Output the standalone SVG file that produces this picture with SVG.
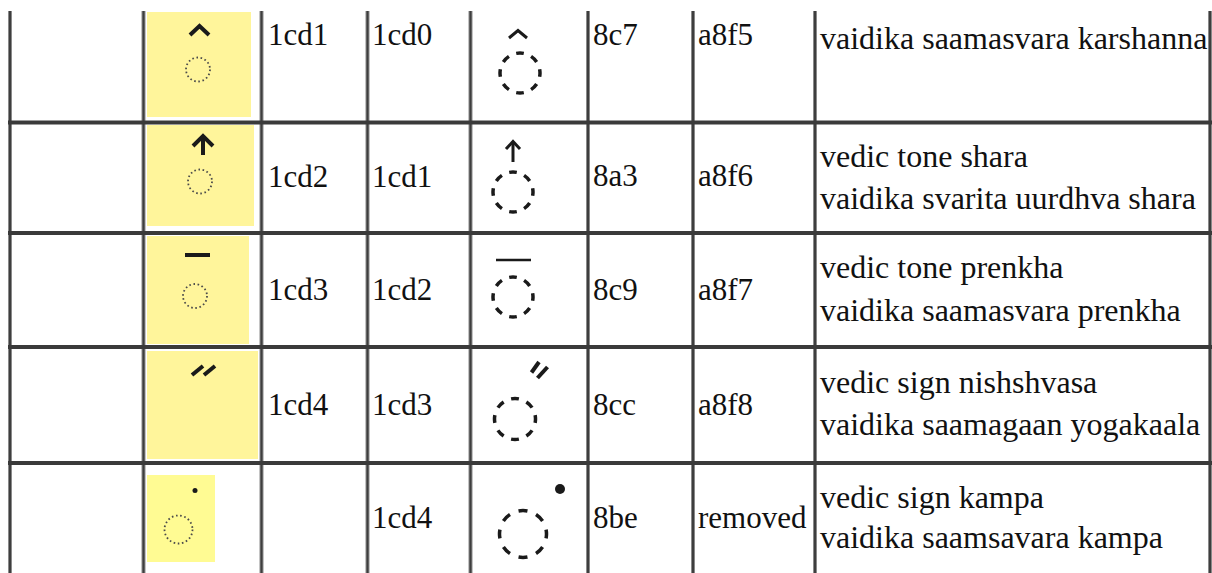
<svg xmlns="http://www.w3.org/2000/svg" width="1212" height="573" viewBox="0 0 1212 573">
<style>
text{font-size:31px;fill:#111}
.d{font-size:32px}
.yb{fill:#fff59b}
.vo{stroke:#8a8a8a;stroke-width:4}
.vi{stroke:#3e3e3e;stroke-width:2}
.ho{stroke:#3a3a3a;stroke-width:4}
.sd{fill:none;stroke:#4a4a4a;stroke-width:1.8;stroke-dasharray:1.6 2.6}
.bd{fill:none;stroke:#1a1a1a;stroke-width:3.5}
.mk{fill:none;stroke:#1a1a1a;stroke-width:4;stroke-linecap:butt;stroke-linejoin:miter}
.mt{fill:none;stroke:#1a1a1a;stroke-width:3;stroke-linejoin:miter}
</style>
<rect width="1212" height="573" fill="#fff"/>
<g id="grid">
<g class="vo">
<line x1="10" y1="11" x2="10" y2="573"/><line x1="143.5" y1="11" x2="143.5" y2="573"/><line x1="261.5" y1="11" x2="261.5" y2="573"/><line x1="367.5" y1="11" x2="367.5" y2="573"/><line x1="470.5" y1="11" x2="470.5" y2="573"/><line x1="588" y1="11" x2="588" y2="573"/><line x1="693" y1="11" x2="693" y2="573"/><line x1="815" y1="11" x2="815" y2="573"/><line x1="1210" y1="11" x2="1210" y2="573"/>
</g>
<g class="vi">
<line x1="10" y1="11" x2="10" y2="573"/><line x1="143.5" y1="11" x2="143.5" y2="573"/><line x1="261.5" y1="11" x2="261.5" y2="573"/><line x1="367.5" y1="11" x2="367.5" y2="573"/><line x1="470.5" y1="11" x2="470.5" y2="573"/><line x1="588" y1="11" x2="588" y2="573"/><line x1="693" y1="11" x2="693" y2="573"/><line x1="815" y1="11" x2="815" y2="573"/><line x1="1210" y1="11" x2="1210" y2="573"/>
</g>
<g class="ho">
<line x1="8" y1="122.5" x2="1212" y2="122.5"/><line x1="8" y1="233" x2="1212" y2="233"/><line x1="8" y1="347" x2="1212" y2="347"/><line x1="8" y1="463" x2="1212" y2="463"/>
</g>
</g>
<g id="rows" font-family="Liberation Serif">
<g id="row1">
<rect class="yb" x="147" y="12" width="104" height="105"/>
<polyline class="mk" points="190,35 199.5,26 209,35"/>
<circle class="sd" cx="198" cy="69.5" r="12"/>
<text x="268" y="45">1cd1</text>
<text x="372" y="45">1cd0</text>
<polyline class="mt" points="509,38 518,30.5 527,38"/>
<circle class="bd" cx="520" cy="73" r="20" pathLength="80" stroke-dasharray="5 5" stroke-dashoffset="2.5"/>
<text x="593" y="45">8c7</text>
<text x="698" y="45">a8f5</text>
<text class="d" x="820" y="49">vaidika saamasvara karshanna</text>
</g>
<g id="row2">
<rect class="yb" x="147" y="125" width="107" height="101"/>
<polyline class="mk" points="193,146 203,136 213,146"/>
<line class="mk" x1="203" y1="137" x2="203" y2="155"/>
<circle class="sd" cx="200" cy="181.5" r="12"/>
<text x="268" y="187">1cd2</text>
<text x="372" y="187">1cd1</text>
<polyline class="mt" points="506,149 513,141.5 520,149"/>
<line class="mt" x1="513" y1="142" x2="513" y2="162"/>
<circle class="bd" cx="513" cy="192" r="20" pathLength="80" stroke-dasharray="5 5" stroke-dashoffset="2.5"/>
<text x="593" y="186">8a3</text>
<text x="698" y="186">a8f6</text>
<text class="d" x="820" y="167">vedic tone shara</text>
<text class="d" x="820" y="209">vaidika svarita uurdhva shara</text>
</g>
<g id="row3">
<rect class="yb" x="147" y="236" width="102" height="108"/>
<line class="mk" x1="185" y1="255" x2="210" y2="255"/>
<circle class="sd" cx="195" cy="296" r="12"/>
<text x="268" y="300">1cd3</text>
<text x="372" y="300">1cd2</text>
<line x1="496" y1="260" x2="531" y2="260" stroke="#1a1a1a" stroke-width="2.5"/>
<circle class="bd" cx="513" cy="297" r="20" pathLength="80" stroke-dasharray="5 5" stroke-dashoffset="2.5"/>
<text x="593" y="300">8c9</text>
<text x="698" y="300">a8f7</text>
<text class="d" x="820" y="278">vedic tone prenkha</text>
<text class="d" x="820" y="321">vaidika saamasvara prenkha</text>
</g>
<g id="row4">
<rect class="yb" x="147" y="351" width="111" height="108"/>
<line class="mk" x1="192" y1="375" x2="203" y2="366"/>
<line class="mk" x1="204" y1="375" x2="215" y2="366"/>
<text x="268" y="415">1cd4</text>
<text x="372" y="415">1cd3</text>
<line class="mk" x1="531.5" y1="372.5" x2="539" y2="362"/>
<line class="mk" x1="537.5" y1="378" x2="547.5" y2="367"/>
<circle class="bd" cx="515" cy="419" r="20.5" pathLength="80" stroke-dasharray="5 5" stroke-dashoffset="2.5"/>
<text x="593" y="415">8cc</text>
<text x="698" y="415">a8f8</text>
<text class="d" x="820" y="393">vedic sign nishshvasa</text>
<text class="d" x="820" y="435">vaidika saamagaan yogakaala</text>
</g>
<g id="row5">
<rect x="147" y="475" width="68" height="87" fill="#fffb93"/>
<circle cx="195" cy="490.5" r="2.5" fill="#1a1a1a"/>
<circle class="sd" cx="178.5" cy="529.5" r="14"/>
<text x="372" y="528">1cd4</text>
<circle cx="560" cy="489" r="5" fill="#1a1a1a"/>
<circle class="bd" cx="523" cy="534" r="23.5" pathLength="80" stroke-dasharray="5 5" stroke-dashoffset="2.5"/>
<text x="593" y="528">8be</text>
<text x="698" y="528">removed</text>
<text class="d" x="820" y="508">vedic sign kampa</text>
<text class="d" x="820" y="548">vaidika saamsavara kampa</text>
</g>
</g>
</svg>
